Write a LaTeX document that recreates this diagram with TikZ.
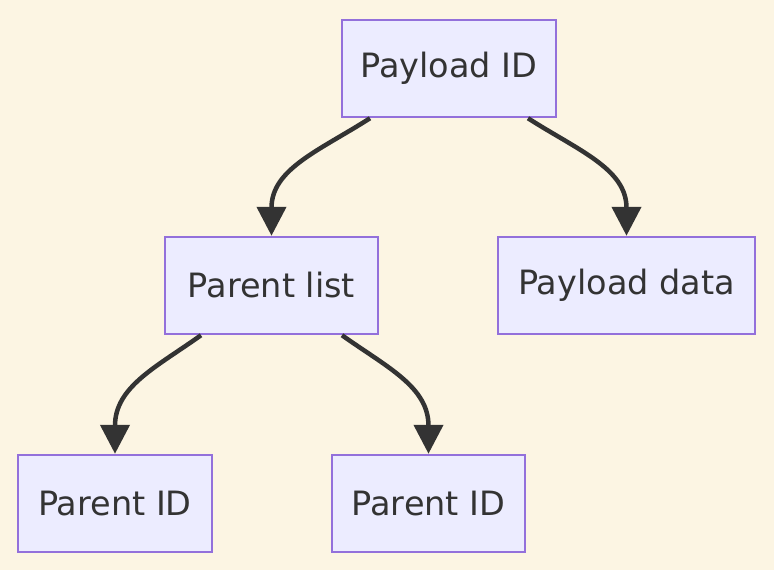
\documentclass[tikz,border=0pt]{standalone}
\usepackage{fontspec}
\setmainfont{DejaVu Sans}
\usetikzlibrary{arrows.meta,calc}
\definecolor{bgc}{HTML}{FCF5E3}
\definecolor{nfill}{HTML}{ECECFF}
\definecolor{nbord}{HTML}{9370DB}
\definecolor{edgec}{HTML}{333333}
\begin{document}
\begin{tikzpicture}[x=1pt,y=-1pt,
  box/.style={draw=nbord,fill=nfill,line width=2.5pt,minimum height=97pt,inner sep=0pt,
    font=\fontsize{33.5}{40}\selectfont,text=edgec},
  link/.style={draw=edgec,line width=4.5pt,-{Triangle[width=29pt,length=29pt]}}]
\fill[bgc] (0,0) rectangle (774,570);
\useasboundingbox (0,0) rectangle (774,570);
\node[box,minimum width=214pt] (pid) at (449,68.5) {Payload ID};
\node[box,minimum width=213pt] (plist) at (271.5,285.5) {Parent list};
\node[box,minimum width=257pt] (pdata) at (626.5,285.5) {Payload data};
\node[box,minimum width=194pt] (id1) at (115,503.5) {Parent ID};
\node[box,minimum width=193pt] (id2) at (428.5,503.5) {Parent ID};
\draw[link] ($(pid.south)+(-79,0)$) .. controls +(-50,32) and +(0,-67) .. (plist.north);
\draw[link] ($(pid.south)+(79,0)$) .. controls +(50,32) and +(0,-67) .. (pdata.north);
\draw[link] ($(plist.south)+(-70.5,0)$) .. controls +(-45,32) and +(0,-67) .. (id1.north);
\draw[link] ($(plist.south)+(70.5,0)$) .. controls +(45,32) and +(0,-67) .. (id2.north);
\end{tikzpicture}
\end{document}
